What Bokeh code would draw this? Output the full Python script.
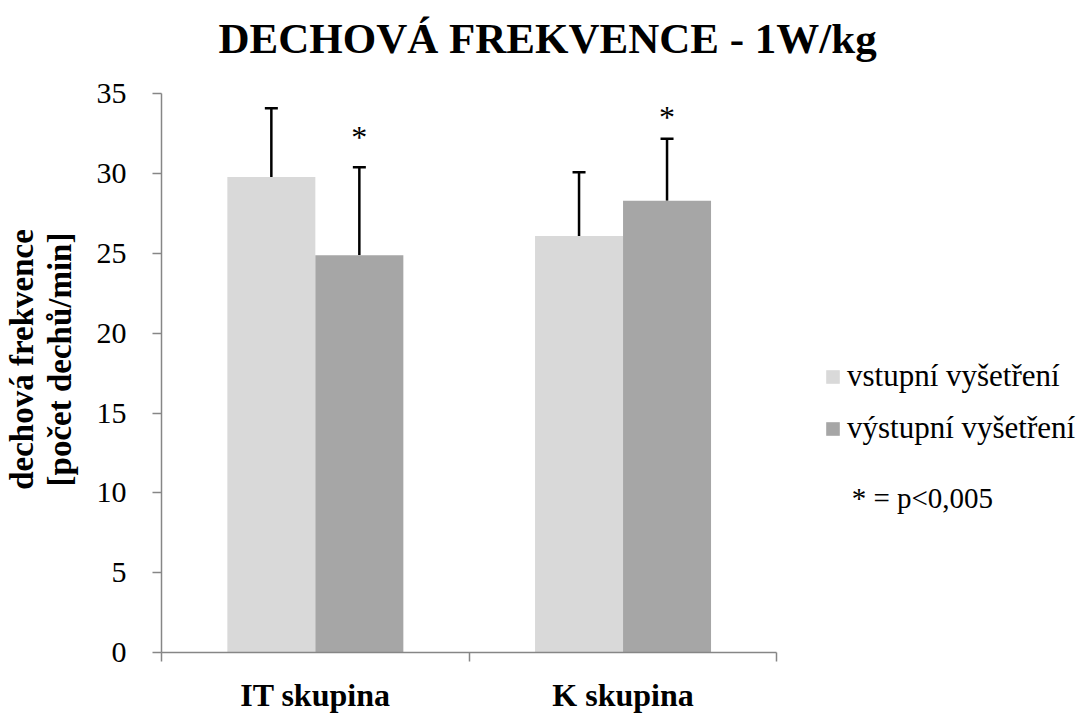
from bokeh.plotting import figure
from bokeh.models import (ColumnDataSource, Range1d, FixedTicker, Whisker, TeeHead,
                          Legend, LegendItem, Label)
from bokeh.embed import file_html
from bokeh.resources import INLINE

# ---- data -------------------------------------------------------------
groups = ["IT skupina", "K skupina"]
series = ["vstupní vyšetření", "výstupní vyšetření"]
mean_in = [29.8, 26.1]     # vstupní vyšetření
mean_out = [24.9, 28.3]    # výstupní vyšetření
sd_in = [4.3, 4.0]
sd_out = [5.5, 3.9]
significant_out = [True, True]
significance_note = "* = p<0,005"
y_ticks = [0, 5, 10, 15, 20, 25, 30, 35]
y_max = 35

# ---- styling ----------------------------------------------------------
FONT = "Liberation Serif"
LIGHT = "#D9D9D9"
DARK = "#A6A6A6"
AXIS = "#868686"
BAR_W = 0.286
SHIFT = 0.143
STAR_DY = [-30, -22]       # pixel lift of each asterisk above its whisker cap

# the plot frame also spans the legend column on the right and a strip above
# the axis top; the axes themselves are bounded to the data extent
X_EXTRA = 1.003
Y_EXTRA = 1.72

group_x = [i + 0.5 for i in range(len(groups))]
x_in = [g - SHIFT for g in group_x]
x_out = [g + SHIFT for g in group_x]

src_in = ColumnDataSource(dict(x=x_in, top=mean_in,
                               upper=[m + s for m, s in zip(mean_in, sd_in)]))
src_out = ColumnDataSource(dict(x=x_out, top=mean_out,
                                upper=[m + s for m, s in zip(mean_out, sd_out)]))

p = figure(width=1085, height=715, output_backend="svg", toolbar_location=None,
           x_range=Range1d(0, len(groups) + X_EXTRA),
           y_range=Range1d(0, y_max + Y_EXTRA),
           min_border_left=157, min_border_right=0,
           min_border_top=66, min_border_bottom=63)
p.outline_line_color = None
p.grid.visible = False
p.background_fill_color = "white"
p.border_fill_color = "white"

# title
p.title.text = "DECHOVÁ FREKVENCE - 1W/kg"
p.title.text_font = FONT
p.title.text_font_size = "43px"
p.title.text_font_style = "bold"
p.title.text_color = "black"
p.title.align = "left"
p.title.offset = 57
p.title.standoff = 10

# bars
r_in = p.vbar(x="x", top="top", width=BAR_W, bottom=0, source=src_in,
              fill_color=LIGHT, line_color=None)
r_out = p.vbar(x="x", top="top", width=BAR_W, bottom=0, source=src_out,
               fill_color=DARK, line_color=None)

# error bars (upper only)
for src in (src_in, src_out):
    w = Whisker(base="x", lower="top", upper="upper", source=src,
                line_color="black", line_width=2.5,
                upper_head=TeeHead(size=13, line_color="black", line_width=2.5),
                lower_head=None)
    p.add_layout(w)

# significance marks above the output bars
star_x = [x for x, s in zip(x_out, significant_out) if s]
star_y = [m + s for m, s, sig in zip(mean_out, sd_out, significant_out) if sig]
star_src = ColumnDataSource(dict(x=star_x, y=star_y, t=["*"] * len(star_x),
                                 dy=STAR_DY[:len(star_x)]))
p.text(x="x", y="y", text="t", source=star_src, y_offset="dy",
       text_font={"value": FONT}, text_font_size="32px", text_color="black",
       text_align="center", text_baseline="alphabetic")

# y axis
ya = p.yaxis[0]
ya.bounds = (0, y_max)
ya.ticker = FixedTicker(ticks=y_ticks)
ya.axis_line_color = AXIS
ya.axis_line_width = 1.5
ya.major_tick_line_color = AXIS
ya.major_tick_line_width = 1.5
ya.major_tick_out = 9
ya.major_tick_in = 0
ya.minor_tick_line_color = None
ya.major_label_text_font = FONT
ya.major_label_text_font_size = "30px"
ya.major_label_text_color = "black"
ya.major_label_standoff = 26
ya.axis_label = "dechová frekvence\n[počet dechů/min]"
ya.axis_label_text_font = FONT
ya.axis_label_text_font_size = "33px"
ya.axis_label_text_font_style = "bold"
ya.axis_label_text_color = "black"
ya.axis_label_text_line_height = 1.05
ya.axis_label_standoff = 16

# x axis: category names centred, tick marks at group boundaries
xa = p.xaxis[0]
xa.bounds = (0, len(groups))
xa.ticker = FixedTicker(ticks=group_x, minor_ticks=list(range(len(groups) + 1)))
xa.major_label_overrides = {g: name for g, name in zip(group_x, groups)}
xa.axis_line_color = AXIS
xa.axis_line_width = 1.5
xa.major_tick_line_color = None
xa.major_tick_out = 0
xa.major_tick_in = 0
xa.minor_tick_line_color = AXIS
xa.minor_tick_line_width = 1.5
xa.minor_tick_out = 9
xa.minor_tick_in = 0
xa.major_label_text_font = FONT
xa.major_label_text_font_size = "32px"
xa.major_label_text_font_style = "bold"
xa.major_label_text_color = "black"
xa.major_label_standoff = 15

# legend beside the bars
legend = Legend(items=[LegendItem(label=series[0], renderers=[r_in]),
                       LegendItem(label=series[1], renderers=[r_out])],
                location=(663, 206), orientation="vertical",
                glyph_width=17, glyph_height=17, label_standoff=6,
                label_height=36, spacing=16, padding=0, margin=0,
                border_line_alpha=0, background_fill_alpha=0,
                label_text_font=FONT, label_text_font_size="31px",
                label_text_color="black")
p.add_layout(legend)

note = Label(x=len(groups) + 0.243, y=9.67, text=significance_note,
             text_font=FONT, text_font_size="29px", text_color="black",
             text_align="left", text_baseline="alphabetic")
p.add_layout(note)

open("out.html", "w").write(file_html(p, INLINE))
